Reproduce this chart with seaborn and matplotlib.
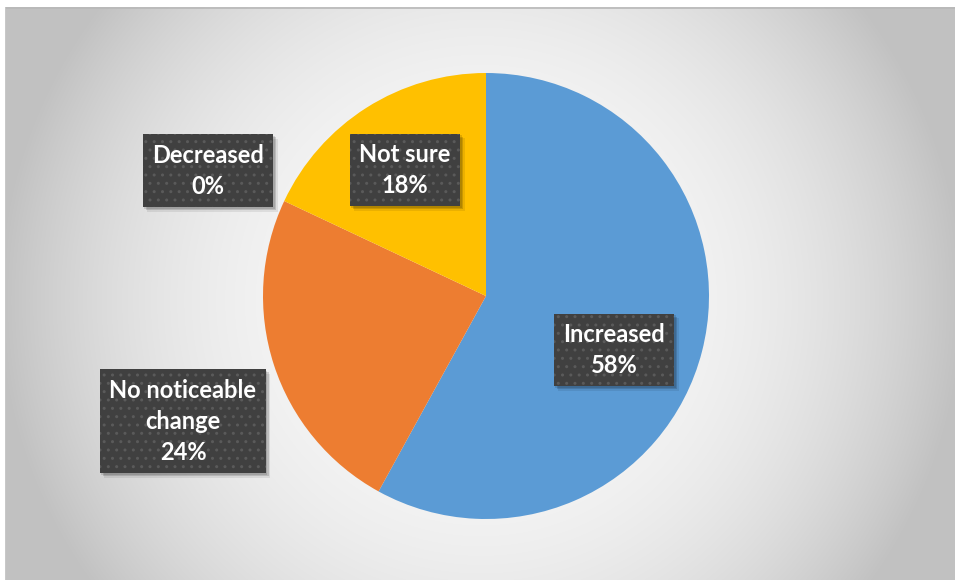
import numpy as np
import matplotlib
matplotlib.use("Agg")
import matplotlib.pyplot as plt
import matplotlib.transforms as mtransforms
from matplotlib.patches import Rectangle
import seaborn as sns

# ---- data ----
categories = ["Increased", "No noticeable change", "Decreased", "Not sure"]
display_labels = ["Increased", "No noticeable\nchange", "Decreased", "Not sure"]
values = [58, 24, 0, 18]
colors = ["#5B9BD5", "#ED7D31", "#A5A5A5", "#FFC000"]
# label box centres (pie-radius units, layout only)
label_pos = [(0.574, -0.242), (-1.359, -0.561), (-1.247, 0.561), (-0.363, 0.565)]

sns.set_theme(style="white")
plt.rcParams["font.family"] = ["Lato", "DejaVu Sans"]

W, H = 955, 580
fig = plt.figure(figsize=(W / 100, H / 100), dpi=100, facecolor="white")

# background panel with radial gradient
bx0, by_top = 5, 7
bg = fig.add_axes([bx0 / W, 0, (W - bx0) / W, (H - by_top) / H])
bg.set_axis_off()
ny, nx = H - by_top, W - bx0
yy, xx = np.mgrid[0:ny, 0:nx]
cx, cy = 480 - bx0, 300 - by_top
r = np.sqrt((xx - cx) ** 2 + (yy - cy) ** 2)
t = np.clip(r / 480.0, 0, 1) ** 2.6
bright = 0.975 - 0.215 * t
img = np.dstack([bright, bright, bright])
bg.imshow(img, aspect="auto", extent=[0, 1, 0, 1], origin="upper")
bg.set_xlim(0, 1)
bg.set_ylim(0, 1)
bg.plot([0, 1], [0.999, 0.999], color="#B8B8B8", lw=1.2, transform=bg.transAxes)
bg.plot([0.0005, 0.0005], [0, 1], color="#C8C8C8", lw=0.8, transform=bg.transAxes)

# pie axes: centre (486, 296) px, radius 223 px
pcx, pcy, pr = 486, 296, 223
ax = fig.add_axes([(pcx - pr) / W, (H - pcy - pr) / H, 2 * pr / W, 2 * pr / H])
ax.set_axis_off()
ax.pie(values, colors=colors, startangle=90, counterclock=False,
       wedgeprops=dict(linewidth=0, edgecolor="none"), radius=1.0)
ax.set_xlim(-1, 1)
ax.set_ylim(-1, 1)

texts = []
for lab, v, (x, y) in zip(display_labels, values, label_pos):
    txt = ax.text(x, y, f"{lab}\n{v:.0f}%", ha="center", va="center",
                  fontsize=17, fontweight="bold", linespacing=1.42,
                  clip_on=False, color="white", zorder=10,
                  bbox=dict(boxstyle="square,pad=0.4", facecolor="#404040",
                            edgecolor="#5A5A5A", linewidth=0, hatch=".."))
    texts.append(txt)

# soft drop shadows behind the label boxes
fig.canvas.draw()
renderer = fig.canvas.get_renderer()
for txt in texts:
    bb = txt.get_bbox_patch().get_window_extent(renderer)
    for off, a in [(4.5, 0.08), (3, 0.14), (1.5, 0.12)]:
        ax.add_patch(Rectangle((bb.x0 + off, bb.y0 - off), bb.width, bb.height,
                               transform=mtransforms.IdentityTransform(),
                               facecolor="black", edgecolor="none", alpha=a,
                               zorder=9, clip_on=False))

fig.savefig("out.png", dpi=100, facecolor="white")
